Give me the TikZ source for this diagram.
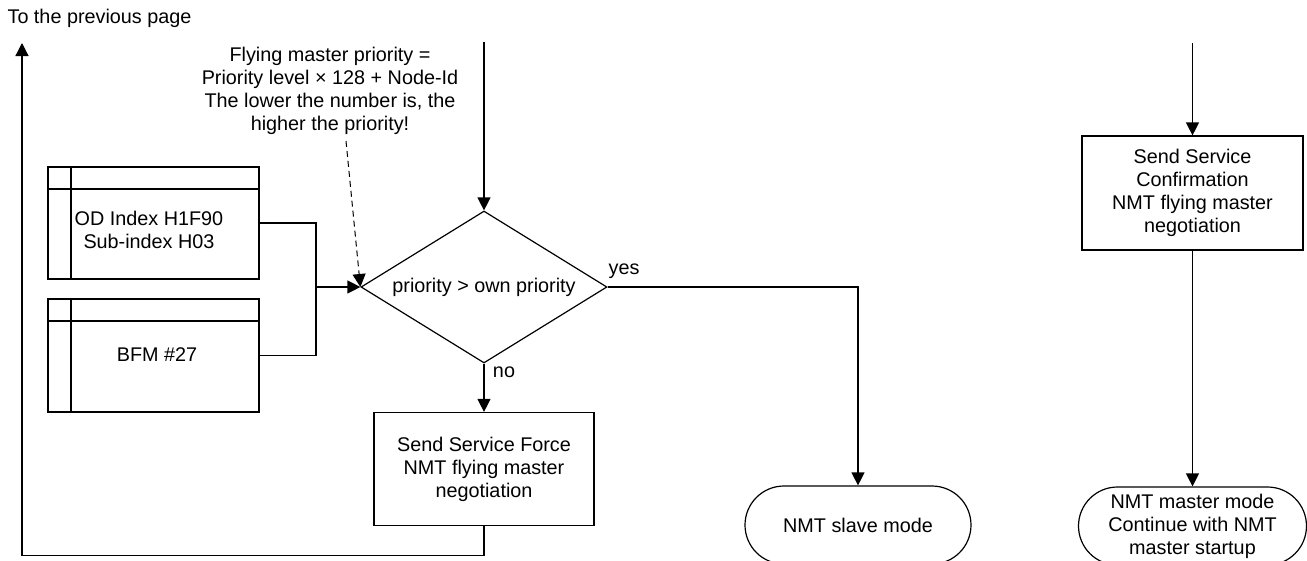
\documentclass[tikz,border=0pt]{standalone}
\usepackage{fontspec}
\setmainfont{Liberation Sans}
\usetikzlibrary{shapes.geometric,arrows.meta,calc}
\begin{document}
\begin{tikzpicture}[x=1pt,y=-1pt, line width=1.2pt,
  font=\fontsize{19.8}{23}\selectfont,
  arr/.style={-{Triangle[length=13pt,width=13pt]}},
  proc/.style={draw, rectangle, align=center, inner sep=0pt},
  term/.style={draw, rectangle, rounded corners=39pt, align=center, inner sep=0pt},
  dbox/.style={draw, rectangle, minimum width=211pt, minimum height=112pt,
    path picture={
      \draw ([xshift=23pt]path picture bounding box.north west) -- ([xshift=23pt]path picture bounding box.south west);
      \draw ([yshift=-22pt]path picture bounding box.north west) -- ([yshift=-22pt]path picture bounding box.north east);}},
  lbl/.style={inner sep=0pt},
  dashline/.style={dashed, dash pattern=on 6pt off 4pt, line width=1pt}]
\useasboundingbox (0,0) rectangle (1307,560);
\clip (0,0) rectangle (1307,560);

\node[lbl, anchor=west] (prev) at (7,18) {To the previous page};
\node[lbl, align=center] (note) at (330,91) {Flying master priority =\\Priority level × 128 + Node-Id\\The lower the number is, the\\higher the priority!};

\node[draw, diamond, shape aspect=1.62, minimum width=246pt, minimum height=152pt, inner sep=0pt] (d) at (484,287) {priority > own priority};

\node[dbox] (b1) at (153.5,223) {};
\node[lbl, align=center] (t1) at (149,230) {OD Index H1F90\\Sub-index H03};
\node[dbox, minimum height=113pt] (b2) at (153.5,355.5) {};
\node[lbl] (t2) at (157,355) {BFM \#27};

\coordinate (jn) at (316,287);
\draw (b1.east) -| (jn);
\draw (b2.east) -| (jn);
\draw[arr] (jn) -- (d.west);

\coordinate (ds) at (346,141);
\draw[arr, dashline] (ds) -- (d.west);

\coordinate (din) at (484,42);
\draw[arr] (din) -- (d.north);

\node[proc, minimum width=220pt, minimum height=113pt] (force) at (484,469) {Send Service Force\\NMT flying master\\negotiation};
\draw[arr] (d.south) -- (force.north);
\node[lbl] (no) at (504,372) {no};

\node[term, minimum width=226pt, minimum height=78pt] (slave) at (858,525) {NMT slave mode};
\draw[arr] (d.east) -| (slave.north);
\node[lbl] (yes) at (624,271) {yes};

\node[proc, minimum width=221pt, minimum height=114pt] (conf) at (1192.5,193) {Send Service\\Confirmation\\NMT flying master\\negotiation};
\coordinate (cin) at (1192.5,43);
\draw[arr] (cin) -- (conf.north);

\node[term, minimum width=228pt, minimum height=78pt] (master) at (1192.5,526) {NMT master mode\\Continue with NMT\\master startup};
\draw[arr] (conf.south) -- (master.north);

\coordinate (ret) at (22,43);
\draw[arr] (force.south) -- ++(0,29) -| (ret);
\end{tikzpicture}
\end{document}
